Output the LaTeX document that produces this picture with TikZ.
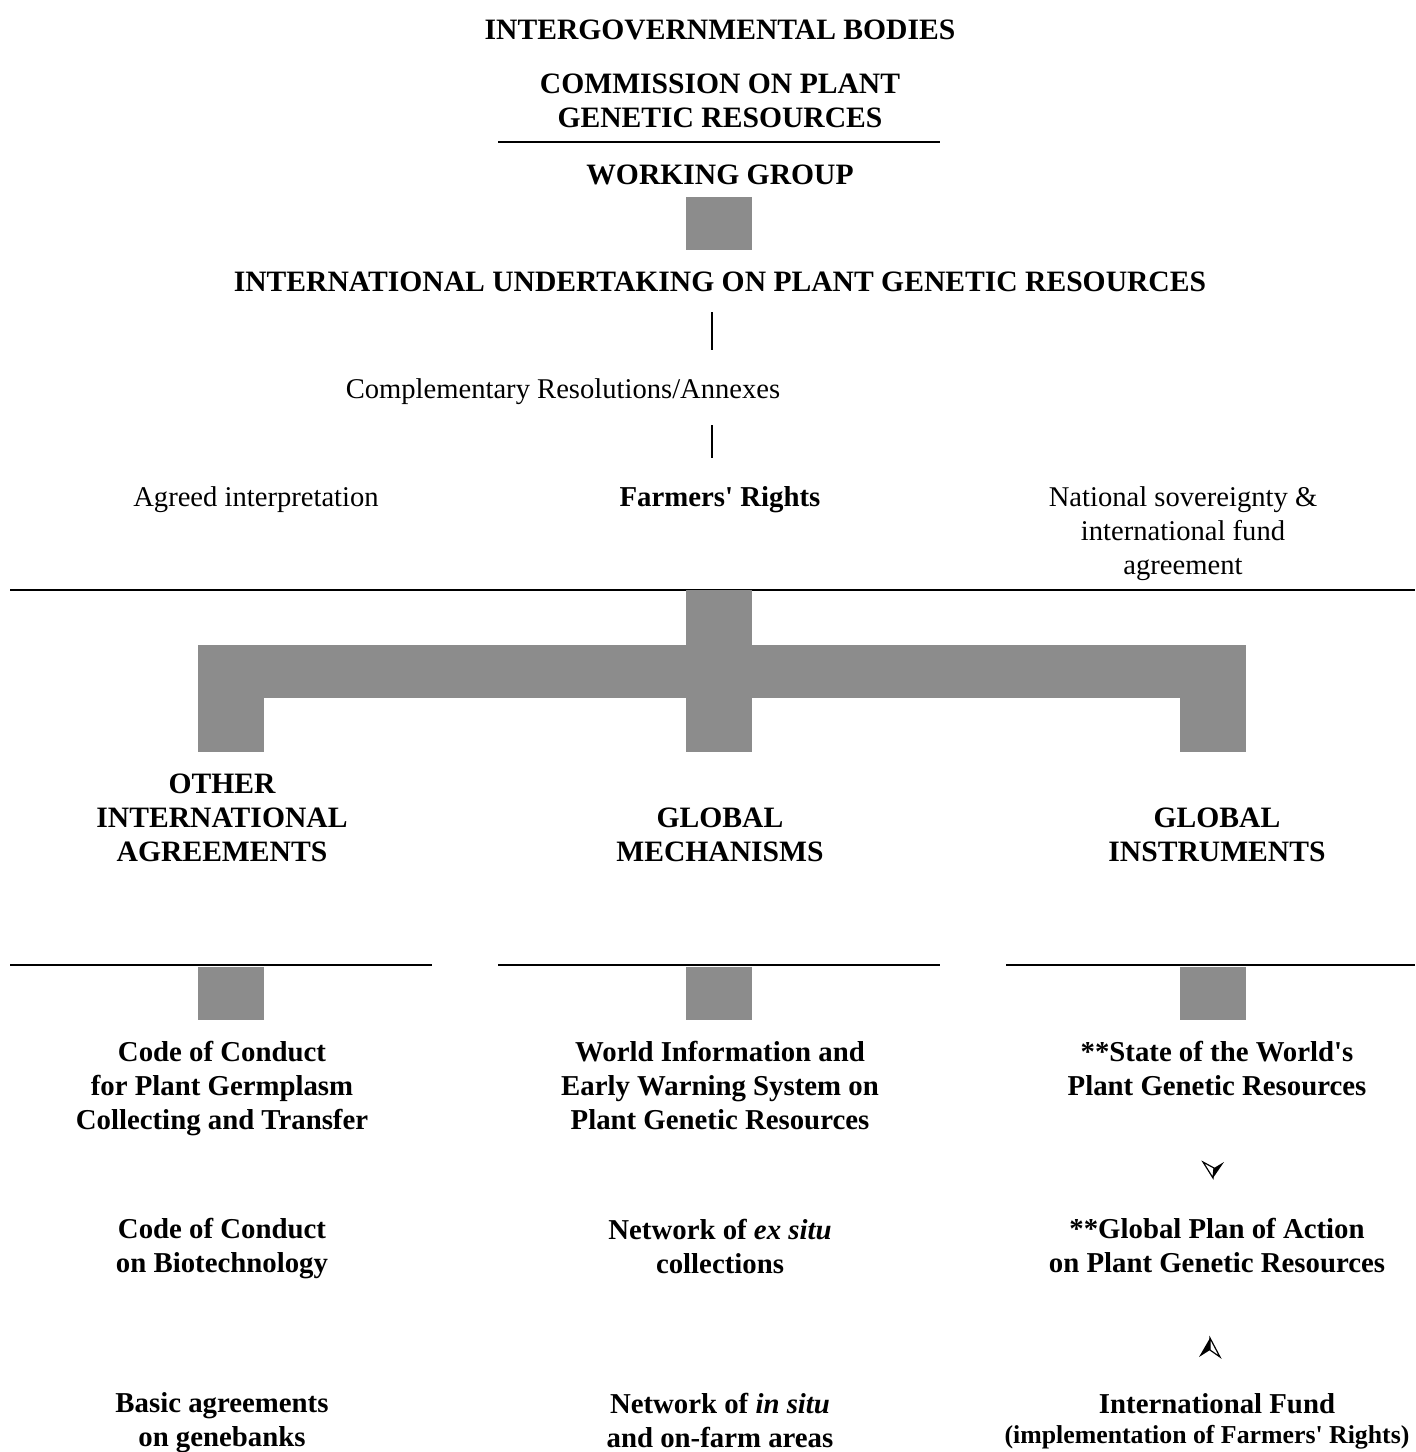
\documentclass[tikz,border=0pt]{standalone}
\usepackage{fontspec}
\setmainfont{Liberation Serif}
\definecolor{bargray}{HTML}{8C8C8C}
\newcommand{\apos}{\textquotesingle}
\tikzstyle{head} = [font=\fontsize{14.8}{17}\selectfont\bfseries, align=center, inner sep=0pt]
\tikzstyle{item} = [font=\fontsize{14.4}{17}\selectfont\bfseries, align=center, inner sep=0pt]
\tikzstyle{plain} = [font=\fontsize{14.3}{17}\selectfont, align=center, inner sep=0pt]
\tikzstyle{bar} = [fill=bargray, draw=none]
\tikzstyle{rule} = [line width=1pt]

\begin{document}
\begin{tikzpicture}[x=0.5pt, y=-0.5pt]
	\useasboundingbox (0,0) rectangle (1415,1452);
	% top part
	\node[head] (bodies) at (720,30) {INTERGOVERNMENTAL BODIES};
	\node[head] (cpgr) at (720,101) {COMMISSION ON PLANT\\GENETIC RESOURCES};
	\draw[rule] (498,142) -- (940,142);
	\node[head] (wg) at (720,175) {WORKING GROUP};
	\fill[bar] (686,197) rectangle (752,250);
	\node[head] (iu) at (720,282) {INTERNATIONAL UNDERTAKING ON PLANT GENETIC RESOURCES};
	\coordinate (t1) at (712,312);
	\coordinate (t2) at (712,350);
	\draw[line width=0.6pt] (t1) -- (t2);
	\node[plain] (compl) at (563,392) {Complementary Resolutions/Annexes};
	\coordinate (t3) at (712,425);
	\coordinate (t4) at (712,458);
	\draw[line width=0.6pt] (t3) -- (t4);
	\node[plain] (agreed) at (256,500) {Agreed interpretation};
	\node[item] (farmers) at (720,500) {Farmers\apos\ Rights};
	\node[plain] (sovereign) at (1183,534) {National sovereignty \&\\international fund\\agreement};
	\draw[rule] (10,590) -- (1415,590);
	% bracket of bars
	\fill[bar] (686,590) rectangle (752,752);
	\fill[bar] (198,645) rectangle (1246,698);
	\fill[bar] (198,698) rectangle (264,752);
	\fill[bar] (1180,698) rectangle (1246,752);
	\node[head] (other) at (222,818) {OTHER\\INTERNATIONAL\\AGREEMENTS};
	\node[head] (mech) at (720,835) {GLOBAL\\MECHANISMS};
	\node[head] (instr) at (1217,835) {GLOBAL\\INSTRUMENTS};
	% three columns
	\draw[rule] (10,965) -- (432,965);
	\draw[rule] (498,965) -- (940,965);
	\draw[rule] (1006,965) -- (1415,965);
	\foreach \x in {198,686,1180}
		\fill[bar] (\x,967) rectangle ++(66,53);
	\node[item] (germ) at (222,1089) {Code of Conduct\\for Plant Germplasm\\Collecting and Transfer};
	\node[item] (wiews) at (720,1086) {World Information and\\Early Warning System on\\Plant Genetic Resources};
	\node[item] (sow) at (1217,1069) {**State of the World\apos s\\Plant Genetic Resources};
	\node[item] (biotech) at (222,1249) {Code of Conduct\\on Biotechnology};
	\node[item] (exsitu) at (720,1246) {Network of \textit{ex situ}\\collections};
	\node[item] (gpa) at (1217,1246) {**Global Plan of Action\\on Plant Genetic Resources};
	\node[item] (genebanks) at (222,1423) {Basic agreements\\on genebanks};
	\node[item] (insitu) at (720,1420) {Network of \textit{in situ}\\and on-farm areas};
	\node[item] (fund) at (1217,1404) {International Fund};
	\node[item, font=\fontsize{12.9}{17}\selectfont\bfseries] (impl) at (1207,1437) {(implementation of Farmers\apos\ Rights)};
	% small arrowheads
	\draw[line width=0.6pt, line join=miter] (1203,1162) -- (1214,1168) -- (1213,1178) -- cycle;
	\fill (1214,1168) -- (1224,1162) -- (1213,1178) -- cycle;
	\fill (1210,1338) -- (1199,1357) -- (1210,1350) -- cycle;
	\draw[line width=0.6pt, line join=miter] (1210,1338) -- (1220,1357) -- (1210,1350) -- cycle;
\end{tikzpicture}
\end{document}
